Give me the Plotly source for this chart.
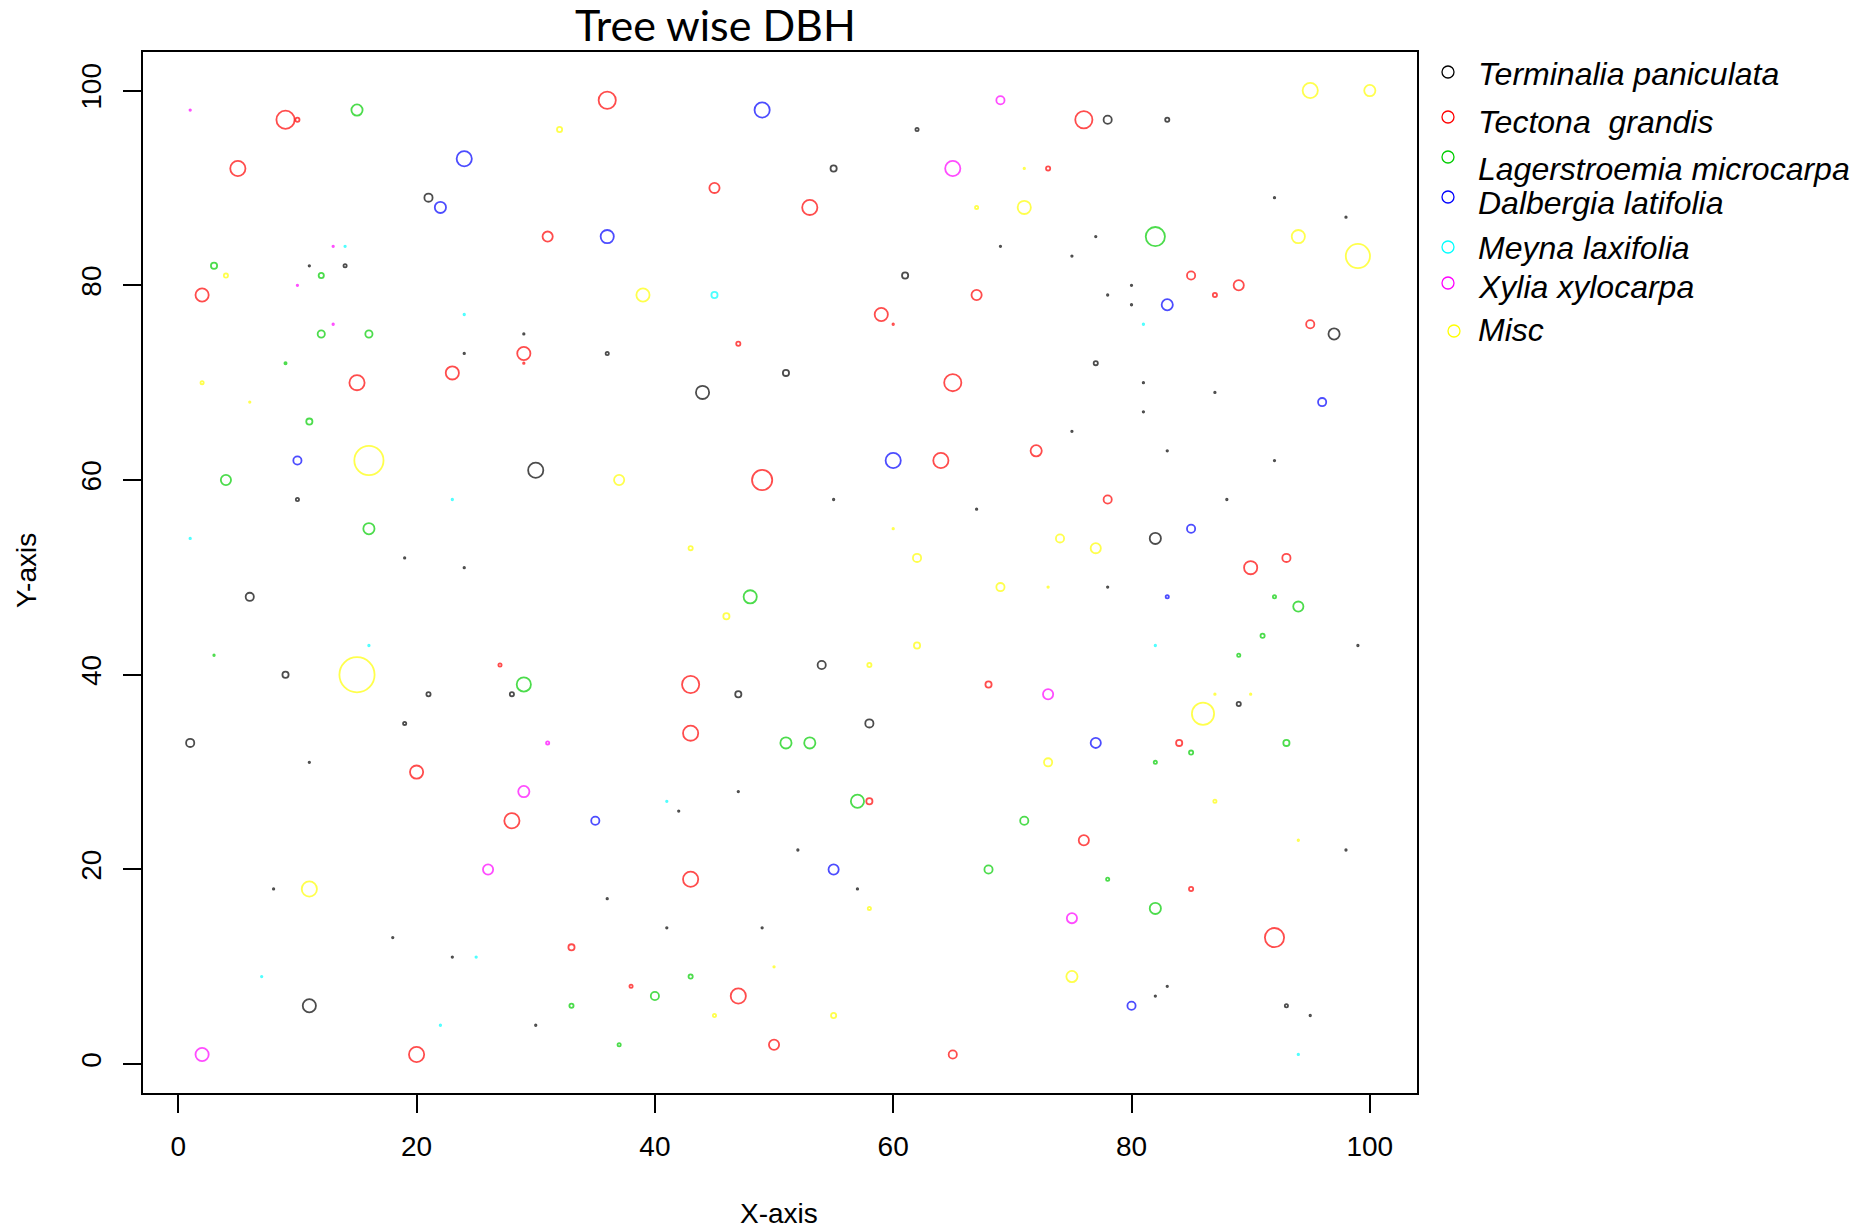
import plotly.graph_objects as go

# ---- species records: x, y position (m) and DBH (drawn as circle diameter) ----
species = [
    "Terminalia paniculata",
    "Tectona  grandis",
    "Lagerstroemia microcarpa",
    "Dalbergia latifolia",
    "Meyna laxifolia",
    "Xylia xylocarpa",
    "Misc",
]
colors = ["#000000", "#FF0000", "#00CD00", "#0000FF", "#00FFFF", "#FF00FF", "#FFFF00"]

terminalia_x = [21, 11, 14, 29, 24, 62, 55, 69, 36, 51, 44, 61, 78, 83, 92, 98, 77, 75, 80, 78, 80, 97, 77, 81, 87, 81,
                30, 10, 19, 24, 6, 9, 21, 28, 19, 1, 11, 55, 67, 54, 47, 58, 75, 83, 92, 88, 82, 78, 99, 89, 8, 18, 23,
                11, 30, 47, 42, 52, 57, 36, 41, 49, 98, 83, 82, 93, 95]
terminalia_y = [89, 82, 82, 75, 73, 96, 92, 84, 73, 71, 69, 81, 97, 97, 89, 87, 85, 83, 80, 79, 78, 75, 72, 70, 69, 67,
                61, 58, 52, 51, 48, 40, 38, 38, 35, 33, 31, 58, 57, 41, 38, 35, 65, 63, 62, 58, 54, 49, 43, 37, 18, 13, 11,
                6, 4, 28, 26, 22, 18, 17, 14, 14, 22, 8, 7, 6, 5]
terminalia_dbh = [10, 3, 5, 3, 3, 5, 8, 3, 5, 8, 15, 8, 10, 6, 3, 3, 3, 3, 3, 3, 3, 13, 6, 3, 3, 3,
                  17, 5, 3, 3, 10, 8, 6, 6, 5, 10, 3, 3, 3, 10, 8, 10, 3, 3, 3, 3, 13, 3, 3, 6, 3, 3, 3,
                  15, 3, 3, 3, 3, 3, 3, 3, 3, 3, 3, 3, 5, 3]

tectona_x = [9, 10, 5, 31, 2, 29, 29, 23, 15, 36, 45, 53, 67, 59, 60, 47, 65, 76, 73, 85, 89, 87, 95, 72, 78, 93, 90,
             64, 49, 27, 43, 68, 43, 84, 20, 28, 33, 20, 58, 43, 38, 47, 50, 65, 76, 85, 92]
tectona_y = [97, 97, 92, 85, 79, 73, 72, 71, 70, 99, 90, 88, 79, 77, 76, 74, 70, 97, 92, 81, 80, 79, 76, 63, 58, 52, 51,
             62, 60, 41, 39, 39, 34, 33, 30, 25, 12, 1, 27, 19, 8, 7, 2, 1, 23, 18, 13]
tectona_dbh = [20, 6, 17, 12, 15, 15, 3, 15, 17, 19, 12, 17, 12, 15, 3, 6, 19, 19, 6, 10, 12, 6, 10, 13, 10, 10, 15,
               17, 22, 5, 19, 8, 17, 8, 15, 17, 8, 17, 8, 17, 5, 17, 12, 10, 12, 6, 21]

lagerstroemia_x = [15, 3, 12, 12, 16, 9, 11, 4, 16, 3, 29, 82, 48, 51, 53, 92, 94, 91, 89, 85, 93, 82, 33, 57, 68, 43,
                   40, 37, 71, 78, 82]
lagerstroemia_y = [98, 82, 81, 75, 75, 72, 66, 60, 55, 42, 39, 85, 48, 33, 33, 48, 47, 44, 42, 32, 33, 31, 6, 27, 20, 9,
                   7, 2, 25, 19, 16]
lagerstroemia_dbh = [13, 8, 7, 9, 9, 4, 8, 12, 13, 3, 16, 21, 15, 13, 13, 5, 12, 6, 5, 6, 8, 5, 6, 15, 10, 6,
                     10, 5, 10, 5, 13]

dalbergia_x = [24, 22, 49, 36, 83, 96, 10, 60, 85, 83, 77, 35, 55, 80]
dalbergia_y = [93, 88, 98, 85, 78, 68, 62, 62, 55, 48, 33, 25, 20, 6]
dalbergia_dbh = [17, 13, 17, 15, 13, 10, 10, 17, 10, 5, 12, 10, 12, 10]

meyna_x = [14, 24, 45, 23, 1, 16, 81, 82, 41, 25, 7, 22, 94]
meyna_y = [84, 77, 79, 58, 54, 43, 76, 43, 27, 11, 9, 4, 1]
meyna_dbh = [3, 3, 8, 3, 3, 3, 3, 3, 3, 3, 3, 3, 3]

xylia_x = [1, 13, 10, 13, 69, 65, 31, 29, 26, 2, 73, 75]
xylia_y = [98, 84, 80, 76, 99, 92, 33, 28, 20, 1, 38, 15]
xylia_dbh = [3, 3, 3, 3, 10, 17, 5, 13, 12, 15, 12, 12]

misc_x = [32, 4, 2, 6, 16, 15, 95, 100, 71, 67, 71, 94, 99, 39, 37, 60, 43, 62, 69, 46, 62, 58, 74, 77, 73, 87, 90,
          86, 73, 87, 94, 11, 58, 50, 45, 55, 75]
misc_y = [96, 81, 70, 68, 62, 40, 100, 100, 92, 88, 88, 85, 83, 79, 60, 55, 53, 52, 49, 46, 43, 41, 54, 53, 49, 38, 38,
          36, 31, 27, 23, 18, 16, 10, 5, 5, 9]
misc_dbh = [7, 6, 5, 3, 31, 37, 17, 13, 3, 5, 15, 15, 26, 15, 12, 3, 6, 10, 10, 8, 8, 6, 10, 12, 3, 3, 3,
            24, 10, 5, 3, 17, 5, 3, 5, 7, 13]

xs = [terminalia_x, tectona_x, lagerstroemia_x, dalbergia_x, meyna_x, xylia_x, misc_x]
ys = [terminalia_y, tectona_y, lagerstroemia_y, dalbergia_y, meyna_y, xylia_y, misc_y]
dbhs = [terminalia_dbh, tectona_dbh, lagerstroemia_dbh, dalbergia_dbh, meyna_dbh, xylia_dbh, misc_dbh]

x_ticks = [0, 20, 40, 60, 80, 100]
y_ticks = [0, 20, 40, 60, 80, 100]

RING = 1.8  # stroke width of the open circles

fig = go.Figure()
for name, col, x, y, d in zip(species, colors, xs, ys, dbhs):
    fig.add_trace(go.Scatter(
        x=x, y=y, mode="markers", name=name,
        marker=dict(
            symbol="circle-open",
            size=[max(v - RING, 1.5) for v in d],
            color=col,
            line=dict(width=RING, color=col),
        ),
        hovertemplate="x=%{x}<br>y=%{y}<extra>" + name + "</extra>",
    ))

# plot-area geometry in pixels (for placing the hand-built legend and labels)
W, H = 1864, 1232
L, R, T, B = 143, 447, 52, 139
PW, PH = W - L - R, H - T - B


def px_x(p):
    return (p - L) / PW


def px_y(p):
    return (H - B - p) / PH


annotations = [
    dict(text="Tree wise DBH", x=px_x(715), y=px_y(24), xref="paper", yref="paper",
         showarrow=False, xanchor="center", yanchor="middle",
         font=dict(family="Lato", size=43, color="black")),
    dict(text="X-axis", x=px_x(779), y=px_y(1213), xref="paper", yref="paper",
         showarrow=False, xanchor="center", yanchor="middle",
         font=dict(family="Liberation Sans", size=28, color="black")),
    dict(text="Y-axis", x=px_x(26), y=px_y(571), xref="paper", yref="paper", textangle=-90,
         showarrow=False, xanchor="center", yanchor="middle",
         font=dict(family="Liberation Sans", size=28, color="black")),
]

# legend: symbol centres and text centres (rows are unevenly spaced)
leg_sym_x = [1448, 1448, 1448, 1448, 1448, 1448, 1454]
leg_sym_y = [72, 117, 157, 197, 247, 283, 331]
leg_txt_y = [74, 122, 169, 203, 248, 287, 330]

shapes = []
for name, col, sx, sy, ty in zip(species, colors, leg_sym_x, leg_sym_y, leg_txt_y):
    shapes.append(dict(
        type="circle", xref="paper", yref="paper",
        xsizemode="pixel", ysizemode="pixel",
        xanchor=px_x(sx), yanchor=px_y(sy),
        x0=-6, x1=6, y0=-6, y1=6,
        line=dict(color=col, width=1.3),
    ))
    annotations.append(dict(
        text="<i>" + name.replace("  ", "&nbsp; ") + "</i>",
        x=px_x(1476), y=px_y(ty), xref="paper", yref="paper",
        showarrow=False, xanchor="left", yanchor="middle",
        font=dict(family="Liberation Sans", size=32, color="black"),
    ))

axis_common = dict(
    range=[-2.96, 103.96],
    showgrid=False, zeroline=False,
    showline=True, mirror=True, linecolor="black", linewidth=2,
    ticks="outside", ticklen=18, tickwidth=1.5, tickcolor="black",
    tickfont=dict(family="Liberation Sans", size=28, color="black"),
)

fig.update_layout(
    width=W, height=H,
    margin=dict(l=L, r=R, t=T, b=B, pad=0),
    paper_bgcolor="white", plot_bgcolor="white",
    showlegend=False,
    xaxis=dict(tickvals=x_ticks, ticklabelstandoff=9, **axis_common),
    yaxis=dict(tickvals=y_ticks, tickangle=-90, ticklabelstandoff=11, **axis_common),
    annotations=annotations,
    shapes=shapes,
)

fig.write_html("out.html")
